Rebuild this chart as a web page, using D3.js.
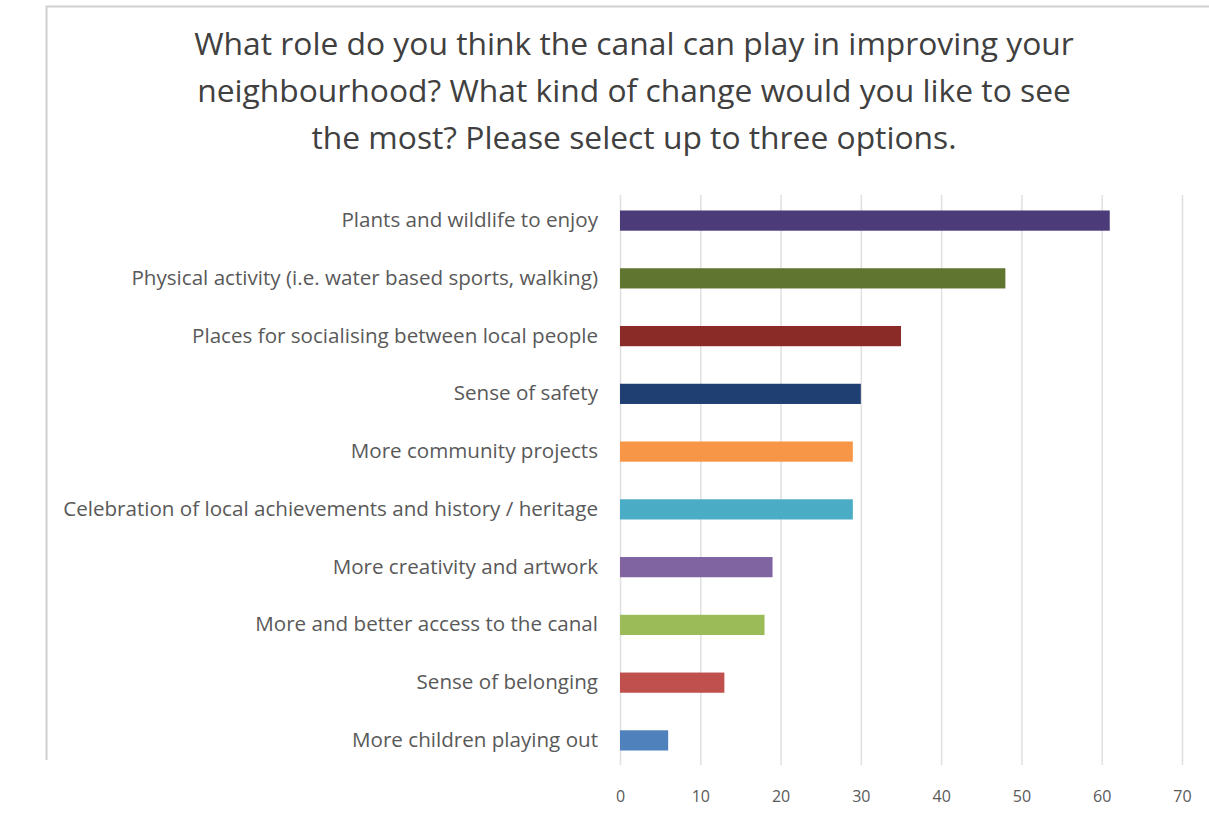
<!DOCTYPE html>
<html><head><meta charset="utf-8">
<script src="https://cdn.jsdelivr.net/npm/d3@7"></script>
<style>body{margin:0;background:#fff}svg{display:block}</style>
</head><body>
<script>
const categories = [
  "Plants and wildlife to enjoy",
  "Physical activity (i.e. water based sports, walking)",
  "Places for socialising between local people",
  "Sense of safety",
  "More community projects",
  "Celebration of local achievements and history / heritage",
  "More creativity and artwork",
  "More and better access to the canal",
  "Sense of belonging",
  "More children playing out"
];
const values = [61, 48, 35, 30, 29, 29, 19, 18, 13, 6];
const barColors = ["#4b3b78","#5f7530","#8a2b27","#1f3f72","#f79646","#4bacc6","#8064a2","#9bbb59","#c0504d","#4f81bd"];
const tickValues = [0,10,20,30,40,50,60,70];
const titleLines = [
  "What role do you think the canal can play in improving your",
  "neighbourhood? What kind of change would you like to see",
  "the most? Please select up to three options."
];

const W = 1209, H = 824;
const svg = d3.select("body").append("svg").attr("width", W).attr("height", H);
const font = "'Open Sans', sans-serif";

// fit a text selection so that its widest item has the given width
function fitFont(sel, base, target) {
  let maxW = 0;
  sel.each(function(){ maxW = Math.max(maxW, this.getComputedTextLength()); });
  sel.attr("font-size", base * target / maxW);
}

// chart frame
svg.append("path").attr("d", `M46.5,760 L46.5,6.5 L${W},6.5`).attr("fill","none").attr("stroke","#d0d0d0").attr("stroke-width",2);

const title = svg.append("g").selectAll("text").data(titleLines).join("text")
  .attr("x", 634).attr("y", (d,i) => 55 + i*47)
  .attr("text-anchor","middle").attr("font-family", font).attr("font-size", 26)
  .attr("fill","#404040").text(d => d);
fitFont(title, 26, 880);

const x = d3.scaleLinear().domain([0,70]).range([620, 1182]);
const y = d3.scaleBand().domain(categories).range([192, 769]).paddingInner(0.65).paddingOuter(0.32);

// gridlines
svg.append("g").selectAll("line").data(tickValues).join("line")
  .attr("x1", d => x(d)+0.5).attr("x2", d => x(d)+0.5)
  .attr("y1", 195).attr("y2", 765)
  .attr("stroke","#e0e0e0").attr("stroke-width",1.5);

svg.append("g").selectAll("rect").data(values).join("rect")
  .attr("x", x(0)).attr("y", (d,i) => y(categories[i]))
  .attr("width", d => x(d) - x(0)).attr("height", y.bandwidth())
  .attr("fill", (d,i) => barColors[i]);

// category labels
const yAxis = d3.axisLeft(y).tickSize(0).tickPadding(22);
const gy = svg.append("g").attr("transform", `translate(${x(0)},0)`).call(yAxis);
gy.select(".domain").remove();
const labels = gy.selectAll("text").attr("font-family", font).attr("font-size", 16).attr("fill","#595959");
fitFont(labels, 16, 535);

// value axis
const xAxis = d3.axisBottom(x).tickValues(tickValues).tickSize(0).tickPadding(0);
const gx = svg.append("g").attr("transform", `translate(0,791)`).call(xAxis);
gx.select(".domain").remove();
gx.selectAll("text").attr("font-family", font).attr("font-size", 16).attr("fill","#595959");
</script>
</body></html>
